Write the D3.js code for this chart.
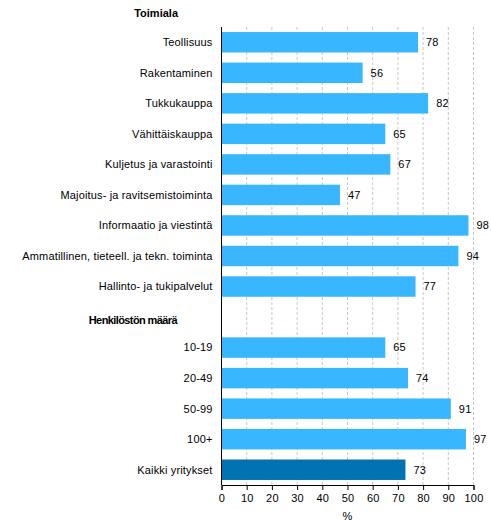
<!DOCTYPE html>
<html><head><meta charset="utf-8">
<script src="https://cdn.jsdelivr.net/npm/d3@7"></script>
<style>body{margin:0;background:#fff}svg{font-family:"Liberation Sans",Arial,sans-serif}</style>
</head><body><div id="c"></div>
<script>
const categories = ["Teollisuus","Rakentaminen","Tukkukauppa","Vähittäiskauppa","Kuljetus ja varastointi","Majoitus- ja ravitsemistoiminta","Informaatio ja viestintä","Ammatillinen, tieteell. ja tekn. toiminta","Hallinto- ja tukipalvelut","__gap__","10-19","20-49","50-99","100+","Kaikki yritykset"];
const values = [78,56,82,65,67,47,98,94,77,null,65,74,91,97,73];
const groupHeaders = ["Toimiala","Henkilöstön määrä"];
const xTicks = [0,10,20,30,40,50,60,70,80,90,100];
const axisTitle = "%";

const W = 491, H = 529;
const m = {left:221.5, right:17.5, top:27, bottom:44};
const svg = d3.select("#c").append("svg").attr("width",W).attr("height",H);
const x = d3.scaleLinear().domain([0,100]).range([m.left, W-m.right]);
const y = d3.scaleBand().domain(categories).range([m.top, H-m.bottom]).paddingInner(0.33).paddingOuter(0.165);

// gridlines
svg.append("g").selectAll("line").data(xTicks.slice(1)).join("line")
  .attr("x1",d=>x(d)).attr("x2",d=>x(d)).attr("y1",m.top).attr("y2",H-m.bottom)
  .attr("stroke","#c8c8c8").attr("stroke-dasharray","3,2").attr("stroke-width",1);

const data = categories.map((c,i)=>({c, v:values[i]})).filter(d=>d.v!==null);
svg.append("g").selectAll("rect").data(data).join("rect")
  .attr("x",x(0)).attr("y",d=>y(d.c)).attr("height",y.bandwidth())
  .attr("width",d=>x(d.v)-x(0))
  .attr("fill",d=>d.c==="Kaikki yritykset"?"#0073b0":"#38b6ff");

svg.append("g").selectAll("text").data(data).join("text")
  .attr("x",d=>x(d.v)+8).attr("y",d=>y(d.c)+y.bandwidth()/2).attr("dy","0.35em")
  .attr("font-size",11).attr("letter-spacing","0.2").attr("fill","#000").text(d=>d.v);

// category labels
svg.append("g").selectAll("text").data(data).join("text")
  .attr("x",m.left-9).attr("y",d=>y(d.c)+y.bandwidth()/2).attr("dy","0.35em")
  .attr("text-anchor","end").attr("font-size",11).attr("letter-spacing","0.15").attr("fill","#000").text(d=>d.c);

// headers
svg.append("text").attr("x",178).attr("y",17).attr("text-anchor","end")
  .attr("font-size",11).attr("font-weight","bold").text(groupHeaders[0]);
svg.append("text").attr("x",177).attr("y",y("__gap__")+y.bandwidth()/2+7).attr("text-anchor","end")
  .attr("font-size",11).attr("font-weight","bold").attr("letter-spacing","-0.6").text(groupHeaders[1]);

// axes
const ax = svg.append("g").attr("transform",`translate(0,${H-m.bottom})`)
  .call(d3.axisBottom(x).tickValues(xTicks).tickSize(5).tickPadding(4));
ax.select(".domain").attr("stroke","#000");
ax.selectAll(".tick line").attr("stroke","#000");
ax.selectAll("text").attr("font-size",11).attr("letter-spacing","0.2").attr("font-family","Liberation Sans, Arial").attr("fill","#000");
svg.append("line").attr("x1",m.left).attr("x2",m.left).attr("y1",m.top).attr("y2",H-m.bottom).attr("stroke","#000");

svg.append("text").attr("x",x(50)).attr("y",520).attr("text-anchor","middle")
  .attr("font-size",11).text(axisTitle);
</script></body></html>
